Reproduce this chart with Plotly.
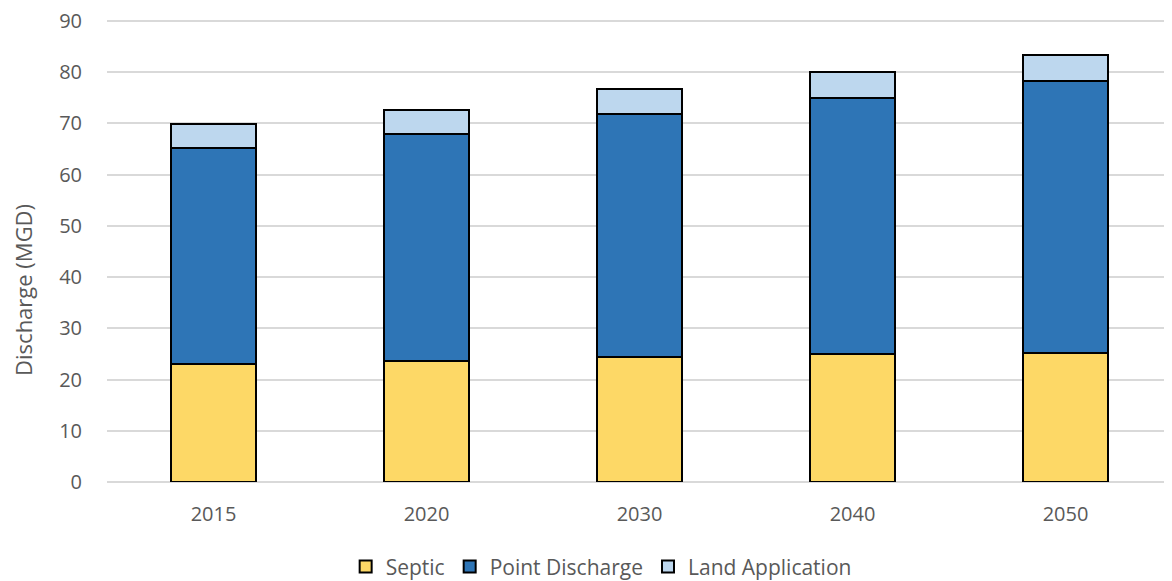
import plotly.graph_objects as go

years = ["2015", "2020", "2030", "2040", "2050"]
septic = [23.0, 23.6, 24.4, 24.9, 25.2]
point_discharge = [42.2, 44.4, 47.5, 50.1, 53.1]
land_application = [4.6, 4.6, 4.8, 5.0, 5.1]
y_ticks = [0, 10, 20, 30, 40, 50, 60, 70, 80, 90]

font_family = "Open Sans, Liberation Sans, sans-serif"
text_color = "#595959"

fig = go.Figure()
for name, vals, color in [
    ("Septic", septic, "#FDD866"),
    ("Point Discharge", point_discharge, "#2E75B6"),
    ("Land Application", land_application, "#BDD7EE"),
]:
    fig.add_trace(go.Bar(
        x=years, y=vals, name=name,
        marker=dict(color=color, line=dict(color="#000000", width=2)),
        width=0.4,
    ))

# page body has an 8px margin, so the figure is sized/offset accordingly
fig.update_layout(
    barmode="stack",
    width=1164, height=573,
    margin=dict(l=99, r=0, t=12, b=99, autoexpand=False),
    plot_bgcolor="white", paper_bgcolor="white",
    font=dict(family=font_family, size=20, color=text_color),
    showlegend=True,
    legend=dict(orientation="h", x=0.464, xanchor="center", y=-0.1835, yanchor="middle",
                font=dict(size=21, color=text_color), traceorder="normal",
                itemwidth=30),
    xaxis=dict(range=[-0.5, 4.5], showgrid=False, showline=False, ticks="",
               automargin=False, ticklabelstandoff=18,
               tickfont=dict(size=20, color=text_color)),
    yaxis=dict(range=[0, 90.2], tickvals=y_ticks, showgrid=True, gridcolor="#D9D9D9",
               gridwidth=1.5, zeroline=True, zerolinecolor="#D9D9D9", zerolinewidth=1.5,
               showline=False, ticks="", ticklabelstandoff=24, automargin=False,
               ticklabeloverflow="allow",
               tickfont=dict(size=20, color=text_color)),
    annotations=[dict(text="Discharge (MGD)", textangle=-90, xref="paper", yref="paper",
                      x=-0.0795, y=0.4165, xanchor="center", yanchor="middle",
                      showarrow=False, font=dict(size=22, color=text_color))],
)

fig.write_html("out.html")
